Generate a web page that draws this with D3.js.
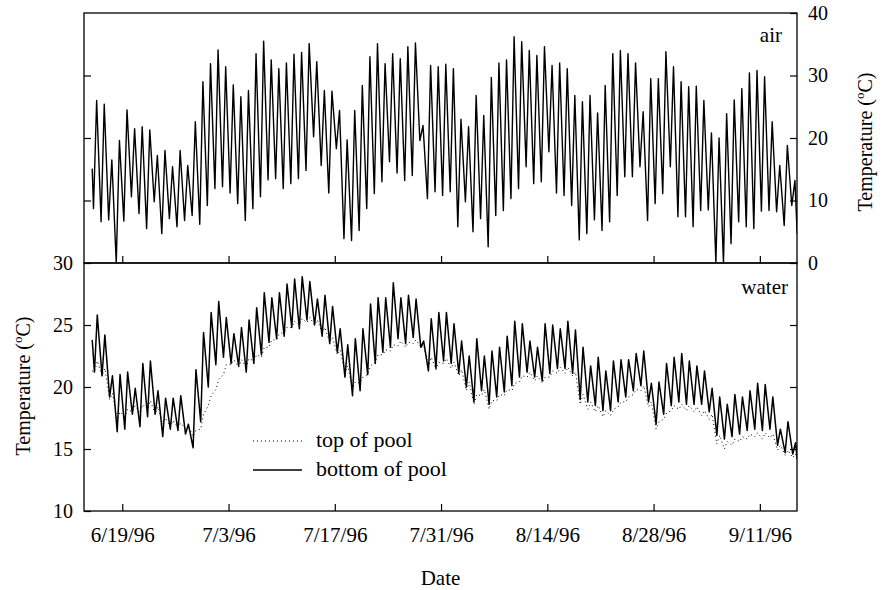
<!DOCTYPE html>
<html>
<head>
<meta charset="utf-8">
<script src="https://cdn.jsdelivr.net/npm/d3@7"></script>
<style>
  body { margin: 0; background: #fff; }
  svg { display: block; font-family: "Liberation Serif", "Times New Roman", serif; }
  .tick text { fill: #000; }
  .tick line { stroke: #000; stroke-width: 1.2; }
</style>
</head>
<body>
<div id="chart"></div>
<script>
// first day of record, one min / max pair per day from here on
var firstDay = new Date(1996, 5, 15);

var dateTicks = ['6/19/96', '7/3/96', '7/17/96', '7/31/96', '8/14/96', '8/28/96', '9/11/96'];
var airTicks = [0, 10, 20, 30, 40];
var waterTicks = [10, 15, 20, 25, 30];

// air temperature, morning low and afternoon high (deg C)
var airMin = [
    8.7, 6.6, 6.9, 0, 6.7, 10.6, 7.9, 5.5, 9.8, 4.7, 7.1, 5.8, 6.8, 7.6, 6.2, 9.2,
    11.9, 12.2, 11.2, 9.5, 6.8, 8.7, 10.6, 13.3, 13.5, 11.9, 12.7, 13.5, 14.8, 20.2, 15.6, 11.2,
    18.3, 3.9, 3.6, 5.2, 8.7, 11.1, 13, 16.2, 14.4, 13.2, 14, 19.6, 10.3, 11.4, 10.8,
    11.4, 5.8, 9.8, 5.0, 7.1, 2.6, 7.6, 8.4, 10.3, 11.9, 15.4, 12.7, 13, 17.8, 11.2, 10.8,
    9.2, 3.7, 4.7, 6.9, 5.2, 6.6, 10.8, 13.8, 13.8, 15.4, 6.8, 9.5, 11.1, 15.4, 7.4,
    7.4, 5.8, 8.4, 8.5, 0, 0, 3.1, 6.6, 5.8, 5.5, 8.3, 8.4, 8.2, 6, 9.2
];
var airMax = [
    26, 25.4, 16.5, 19.6, 24.5, 21.5, 21.8, 21.3, 17.2, 18, 15.4, 18, 15.6, 22.6, 29, 31.9,
    34.1, 31.4, 28.5, 26.6, 27.6, 33.5, 35.5, 32.5, 31.1, 32, 33.4, 33.7, 35.1, 32.2, 27.6, 27.5,
    24.4, 19.7, 24.4, 28.4, 33, 35.1, 31.9, 33.5, 32.7, 34.6, 35.2, 22, 31.6, 31.4, 31.8,
    31.1, 23, 21.8, 26.8, 23.6, 29.7, 32, 32.5, 36.2, 35.4, 34, 33.2, 34.6, 31.6, 32, 31.1,
    26.8, 25.8, 26.8, 24, 28.4, 33.5, 34, 33.5, 32, 24.2, 29.5, 29.5, 33.8, 31.4, 29,
    28.2, 28.3, 26, 20.8, 20, 23.9, 26.1, 27.9, 30.4, 30.8, 29.8, 22.6, 15.6, 18.8, 13.2
];
var airEnds = [15.1, 4.7];

// water, bottom of pool
var bottomMin = [
    21.2, 20.9, 19.2, 16.4, 16.6, 17.8, 16.8, 17.6, 17.8, 16, 16.6, 16.5, 16.2, 15.1, 17.2, 20,
    21.8, 22.4, 21.9, 21.7, 21.2, 21.9, 22.6, 23.6, 23.9, 24.1, 24.8, 24.7, 25.4, 25, 24.1, 23.5,
    22.8, 20.8, 19.3, 19.7, 21, 21.9, 22.8, 23.2, 23.9, 23.5, 24, 23.2, 21.3, 21.5, 22.1,
    21.9, 21.1, 20, 18.8, 19.7, 18.6, 19.2, 19.6, 20.1, 20.8, 21.2, 20.8, 20.5, 21.1, 21.5, 21.5,
    21.1, 19, 18.8, 18.5, 18.1, 18.1, 18.8, 19.2, 19.7, 20.1, 18.8, 17, 17.8, 18.5, 18.8,
    18.6, 18.6, 18.6, 18, 16.1, 15.8, 16, 16.2, 16.5, 16.6, 16.5, 16.6, 15.3, 14.7, 14.6
];
var bottomMax = [
    25.8, 24.2, 20.9, 21, 21.2, 19.9, 21.9, 22.1, 19.7, 19.1, 19.1, 19.3, 17, 21.4, 24.4, 26,
    26.9, 25.6, 24.3, 24.8, 25.4, 26.4, 27.6, 27.2, 27.6, 28.3, 28.7, 28.9, 28.5, 27.1, 27.4, 26.5,
    24.7, 23.4, 23.9, 24.7, 26.7, 27.2, 27.2, 28.4, 27.2, 27.4, 27.1, 23.7, 25.5, 26, 26,
    25.1, 23.7, 22.5, 23.9, 22.5, 22.9, 23.2, 24.1, 25.3, 25.1, 23.7, 23.2, 25.1, 25, 24.7, 25.3,
    24.6, 23.2, 21.7, 22.4, 21.3, 22.1, 22.2, 22.2, 22.7, 22.9, 20.3, 20.4, 21.9, 22.4, 22.7,
    22.1, 21.7, 21.3, 19.9, 19.2, 18.6, 19.4, 19.2, 19.7, 20.3, 20.2, 19.2, 16.6, 17.2, 15.5
];
var bottomEnds = [23.8, 14.2];

// water, top of pool
var topMin = [
    21.2, 20.9, 19.0, 17.4, 17.6, 18.0, 17.9, 18.2, 17.8, 17.0, 16.8, 16.7, 16.6, 16.0, 16.6, 18.5,
    19.8, 21.0, 21.8, 21.6, 21.6, 22.1, 22.4, 23.2, 23.8, 24.4, 24.8, 25.0, 25.2, 25.0, 24.4, 23.6,
    22.6, 21.2, 19.8, 20.3, 21.0, 22.0, 22.6, 22.9, 23.3, 23.2, 23.5, 23.2, 21.6, 21.4, 21.9,
    21.5, 20.9, 19.7, 18.6, 19.3, 18.2, 18.9, 19.3, 19.7, 20.4, 20.8, 20.5, 20.3, 20.8, 21.1, 21.1,
    20.9, 18.6, 18.2, 18.0, 17.6, 17.7, 18.4, 18.8, 19.4, 19.7, 18.4, 16.6, 17.4, 18.1, 18.2,
    18.1, 18.0, 17.7, 17.4, 15.4, 15.0, 15.3, 15.6, 15.8, 16.0, 15.8, 15.9, 14.9, 14.5, 14.3
];
var topMax = [
    22.1, 21.5, 19.5, 18.0, 18.2, 18.5, 18.6, 18.9, 18.4, 17.5, 17.3, 17.1, 16.9, 16.5, 17.8, 19.3,
    20.6, 21.8, 22.2, 22.2, 22.3, 22.6, 23.2, 23.8, 24.3, 24.8, 25.3, 25.5, 25.6, 25.4, 24.8, 24.0,
    23.0, 21.7, 20.4, 20.8, 21.7, 22.6, 23.0, 23.4, 23.7, 23.6, 23.8, 23.4, 22.4, 22.0, 22.3,
    22.0, 21.4, 20.4, 19.4, 19.8, 18.9, 19.4, 19.8, 20.3, 20.9, 21.2, 20.9, 20.8, 21.3, 21.6, 21.6,
    21.2, 19.4, 18.8, 18.5, 18.1, 18.2, 18.8, 19.2, 19.8, 20.1, 18.8, 17.2, 17.9, 18.5, 18.6,
    18.5, 18.4, 18.1, 17.8, 16.1, 15.6, 15.8, 16.0, 16.2, 16.3, 16.3, 16.2, 15.3, 14.9, 14.6
];
var topEnds = [21.3, 14.0];

function series (mins, maxs, ends, minHour, maxHour) {
    var pts = [{ t: d3.timeHour.offset(firstDay, 1), v: ends[0] }];
    mins.forEach(function (m, i) {
        var day = d3.timeDay.offset(firstDay, i);
        pts.push({ t: d3.timeHour.offset(day, minHour), v: m });
        pts.push({ t: d3.timeHour.offset(day, maxHour), v: maxs[i] });
    });
    var last = d3.timeDay.offset(firstDay, mins.length - 1);
    pts.push({ t: d3.timeHour.offset(last, 22), v: ends[1] });
    return pts;
}

var width = 885, height = 590;
var left = 84, right = 797, top1 = 13, mid = 263, bottom = 511;
var parseDate = d3.timeParse('%m/%d/%y');
var serif = '"Liberation Serif", "Times New Roman", serif';

var svg = d3.select('#chart').append('svg')
    .attr('width', width)
    .attr('height', height);

var x = d3.scaleTime()
    .domain([new Date(1996, 5, 13, 23, 0), new Date(1996, 8, 15, 21, 30)])
    .range([left, right]);
var yAir = d3.scaleLinear().domain([0, 40]).range([mid, top1]);
var yWater = d3.scaleLinear().domain([10, 30]).range([bottom, mid]);

var defs = svg.append('defs');
defs.append('clipPath').attr('id', 'clip-air')
    .append('rect').attr('x', left).attr('y', top1).attr('width', right - left).attr('height', mid - top1);
defs.append('clipPath').attr('id', 'clip-water')
    .append('rect').attr('x', left).attr('y', mid).attr('width', right - left).attr('height', bottom - mid);

// lines
var airLine = d3.line().x(function (d) { return x(d.t); }).y(function (d) { return yAir(d.v); });
var waterLine = d3.line().x(function (d) { return x(d.t); }).y(function (d) { return yWater(d.v); });

svg.append('path')
    .datum(series(airMin, airMax, airEnds, 5, 15))
    .attr('clip-path', 'url(#clip-air)')
    .attr('d', airLine)
    .style('fill', 'none').style('stroke', '#000').style('stroke-width', 1.4)
    .style('stroke-linejoin', 'round');

svg.append('path')
    .datum(series(topMin, topMax, topEnds, 8, 17))
    .attr('clip-path', 'url(#clip-water)')
    .attr('d', waterLine)
    .style('fill', 'none').style('stroke', '#000').style('stroke-width', 1)
    .style('stroke-dasharray', '1,3');

svg.append('path')
    .datum(series(bottomMin, bottomMax, bottomEnds, 8, 17))
    .attr('clip-path', 'url(#clip-water)')
    .attr('d', waterLine)
    .style('fill', 'none').style('stroke', '#000').style('stroke-width', 1.5)
    .style('stroke-linejoin', 'round');

// axes, ticks point inward
var tickDates = dateTicks.map(parseDate);

function styleAxis (g, size) {
    g.attr('font-family', serif).attr('font-size', size);
    g.select('.domain').remove();
    g.selectAll('.tick text').style('font-family', serif).style('font-size', size + 'px');
}

svg.append('g')
    .attr('transform', 'translate(0,' + mid + ')')
    .call(d3.axisBottom(x).tickValues(tickDates).tickSize(-7).tickFormat(''))
    .call(styleAxis, 20);

svg.append('g')
    .attr('transform', 'translate(0,' + bottom + ')')
    .call(d3.axisBottom(x).tickValues(tickDates).tickSize(-7).tickPadding(16)
        .tickFormat(function (d, i) { return dateTicks[i]; }))
    .call(styleAxis, 21);

svg.append('g')
    .attr('transform', 'translate(' + left + ',0)')
    .call(d3.axisLeft(yAir).tickValues([10, 20, 30]).tickSize(-7).tickFormat(''))
    .call(styleAxis, 20);

svg.append('g')
    .attr('transform', 'translate(' + right + ',0)')
    .call(d3.axisRight(yAir).tickValues(airTicks).tickSize(-7).tickPadding(11))
    .call(styleAxis, 20);

svg.append('g')
    .attr('transform', 'translate(' + left + ',0)')
    .call(d3.axisLeft(yWater).tickValues(waterTicks).tickSize(-7).tickPadding(11))
    .call(styleAxis, 20);

svg.append('g')
    .attr('transform', 'translate(' + right + ',0)')
    .call(d3.axisRight(yWater).tickValues([15, 20, 25]).tickSize(-7).tickFormat(''))
    .call(styleAxis, 20);

// panel frames
[[top1, mid], [mid, bottom]].forEach(function (p) {
    svg.append('rect')
        .attr('x', left).attr('y', p[0])
        .attr('width', right - left).attr('height', p[1] - p[0])
        .style('fill', 'none').style('stroke', '#000').style('stroke-width', 1.3);
});

// labels
function tempTitle (tx, ty) {
    var t = svg.append('text')
        .attr('transform', 'translate(' + tx + ',' + ty + ') rotate(-90)')
        .attr('text-anchor', 'middle')
        .style('font-family', serif)
        .style('font-size', '20px');
    t.append('tspan').text('Temperature (');
    t.append('tspan').attr('dy', -8).style('font-size', '13px').text('o');
    t.append('tspan').attr('dy', 8).text('C)');
}
tempTitle(30, 386);
tempTitle(872, 142);

function label (lx, ly, anchor, size, txt) {
    svg.append('text').attr('x', lx).attr('y', ly).attr('text-anchor', anchor)
        .style('font-family', serif).style('font-size', size + 'px').text(txt);
}
label(right - 15, 42, 'end', 21, 'air');
label(right - 9, 294, 'end', 21, 'water');
label((left + right) / 2, 585, 'middle', 21, 'Date');

// legend
var legend = [
    { label: 'top of pool', dash: '1,3', w: 1, y: 441 },
    { label: 'bottom of pool', dash: null, w: 1.5, y: 470 }
];
legend.forEach(function (d) {
    svg.append('line')
        .attr('x1', 253).attr('x2', 302).attr('y1', d.y).attr('y2', d.y)
        .style('stroke', '#000').style('stroke-width', d.w)
        .style('stroke-dasharray', d.dash);
    label(316, d.y + 6, 'start', 22, d.label);
});
</script>
</body>
</html>
